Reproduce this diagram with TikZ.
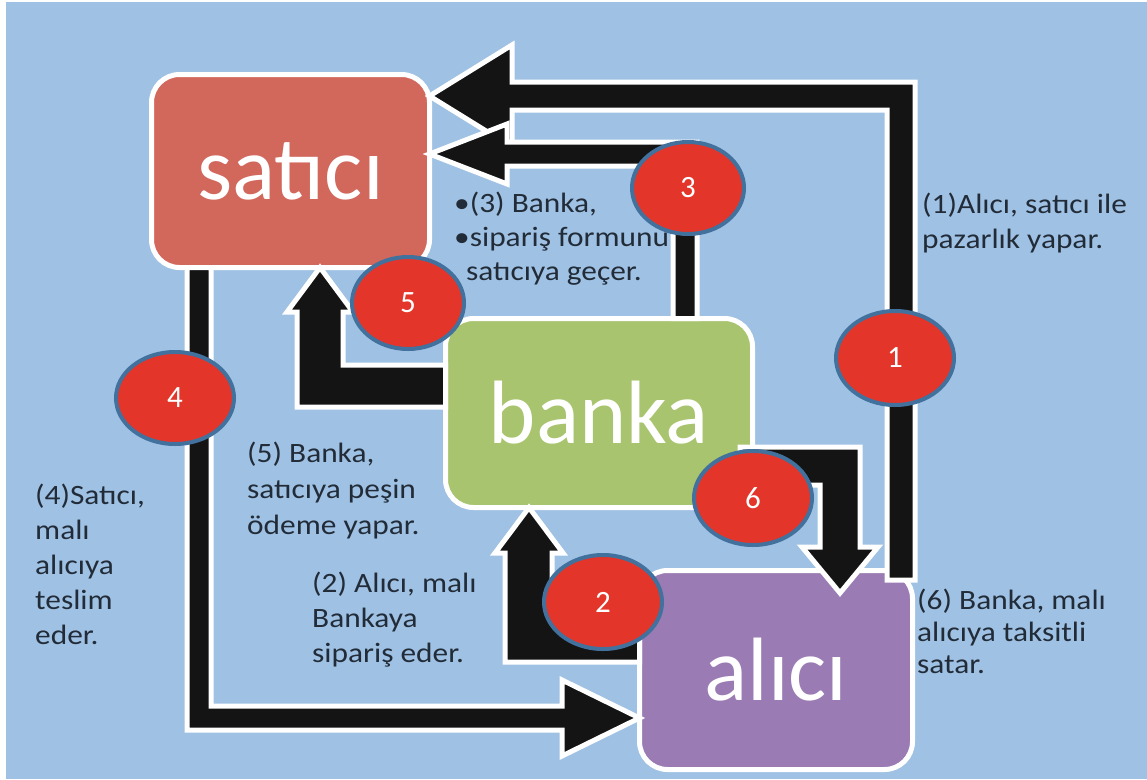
\documentclass[tikz,border=0pt]{standalone}
\usepackage{fontspec}
\setmainfont{Carlito}
\newfontfamily\labf[FakeStretch=1.12]{Carlito}
\usetikzlibrary{shapes.geometric,calc}
\definecolor{bg}{HTML}{9FC1E4}
\definecolor{satc}{HTML}{D2675C}
\definecolor{bnkc}{HTML}{A9C46E}
\definecolor{alcc}{HTML}{9A7BB4}
\definecolor{redc}{HTML}{E4352A}
\definecolor{ringc}{HTML}{41719C}
\definecolor{txtc}{HTML}{222C38}
\definecolor{arrc}{HTML}{141414}
\tikzset{
  box/.style={draw=white, line width=5pt, rounded corners=28pt, inner sep=0pt, outer sep=0pt, text=white, font=\fontsize{90}{90}\selectfont},
  blk/.style={fill=arrc, draw=white, line width=5pt, line join=miter},
  num/.style={ellipse, fill=redc, draw=ringc, line width=4pt, text=white, font=\fontsize{31}{31}\selectfont, inner sep=0pt},
  lab/.style={anchor=base west, align=left, text=txtc, inner sep=0pt, font=\labf\fontsize{28}{35}\selectfont},
}
\begin{document}
\begin{tikzpicture}[x=1pt,y=-1pt]
\useasboundingbox (0,0) rectangle (1147,779);
\fill[bg] (0,0) rectangle (1147,779);
\fill[white] (0,0) rectangle (6,779);
\fill[white] (0,0) rectangle (1147,1.5);

% boxes
\node[box, fill=satc, minimum width=278pt, minimum height=193pt] (sat) at (290.5,171) {satıcı};
\node[box, fill=bnkc, minimum width=307pt, minimum height=189pt] (bnk) at (599,413) {banka};
\node[box, fill=alcc, minimum width=273pt, minimum height=199pt] (alc) at (776,670) {alıcı};

% arrows
\draw[blk] (887,580) -- (915,580) -- (915,82) -- (512,82) -- (512,45) -- (sat.east |- 0,96) -- (512,147) -- (512,110) -- (887,110) -- cycle;
\draw[blk] (673,0 |- bnk.north) -- (697,0 |- bnk.north) -- (697,142) -- (507,142) -- (507,124) -- (sat.east |- 0,154) -- (507,184) -- (507,166) -- (673,166) -- cycle;
\draw[blk] (bnk.west |- 0,365) -- (bnk.west |- 0,407) -- (297,407) -- (297,312) -- (287,312) -- (320,0 |- sat.south) -- (353,312) -- (343,312) -- (343,365) -- cycle;
\draw[blk] (alc.west |- 0,622) -- (alc.west |- 0,662) -- (505,662) -- (505,553) -- (495,553) -- (529,0 |- bnk.south) -- (563,553) -- (552,553) -- (552,622) -- cycle;
\draw[blk] (740,447) -- (860,447) -- (860,547) -- (878,547) -- (840,593) -- (802,547) -- (820,547) -- (820,485) -- (740,485) -- cycle;
\draw[blk] (187,0 |- sat.south) -- (211,0 |- sat.south) -- (211,706) -- (562,706) -- (562,680) -- (alc.west |- 0,718) -- (562,756) -- (562,730) -- (187,730) -- cycle;

% numbered ellipses
\node[num, minimum width=112pt, minimum height=92pt] (c3) at (688,188) {3};
\node[num, minimum width=112pt, minimum height=92pt] (c5) at (408,303) {5};
\node[num, minimum width=118pt, minimum height=92pt] (c4) at (175,398) {4};
\node[num, minimum width=118pt, minimum height=94pt] (c1) at (895,358) {1};
\node[num, minimum width=118pt, minimum height=94pt] (c6) at (753,498) {6};
\node[num, minimum width=118pt, minimum height=94pt] (c2) at (603,602) {2};

% labels (base anchor = baseline of last line)
\node[lab] (l1) at (922,248) {(1)Alıcı, satıcı ile\\pazarlık yapar.};
\node[lab, font=\labf\fontsize{28}{32}\selectfont] (l6) at (917,673) {(6) Banka, malı\\alıcıya taksitli\\satar.};
\node[lab] (l4) at (35,644) {(4)Satıcı,\\malı\\alıcıya\\teslim\\eder.};
\node[lab, font=\labf\fontsize{28}{36}\selectfont] (l5) at (247,534) {(5) Banka,\\satıcıya peşin\\ödeme yapar.};
\node[lab] (l2) at (312,662) {(2) Alıcı, malı\\Bankaya\\sipariş eder.};
\node[lab, font=\labf\fontsize{28}{34}\selectfont] (l3) at (454,280) {•(3) Banka,\\•sipariş formunu\\\hspace*{12pt}satıcıya geçer.};
\end{tikzpicture}
\end{document}
